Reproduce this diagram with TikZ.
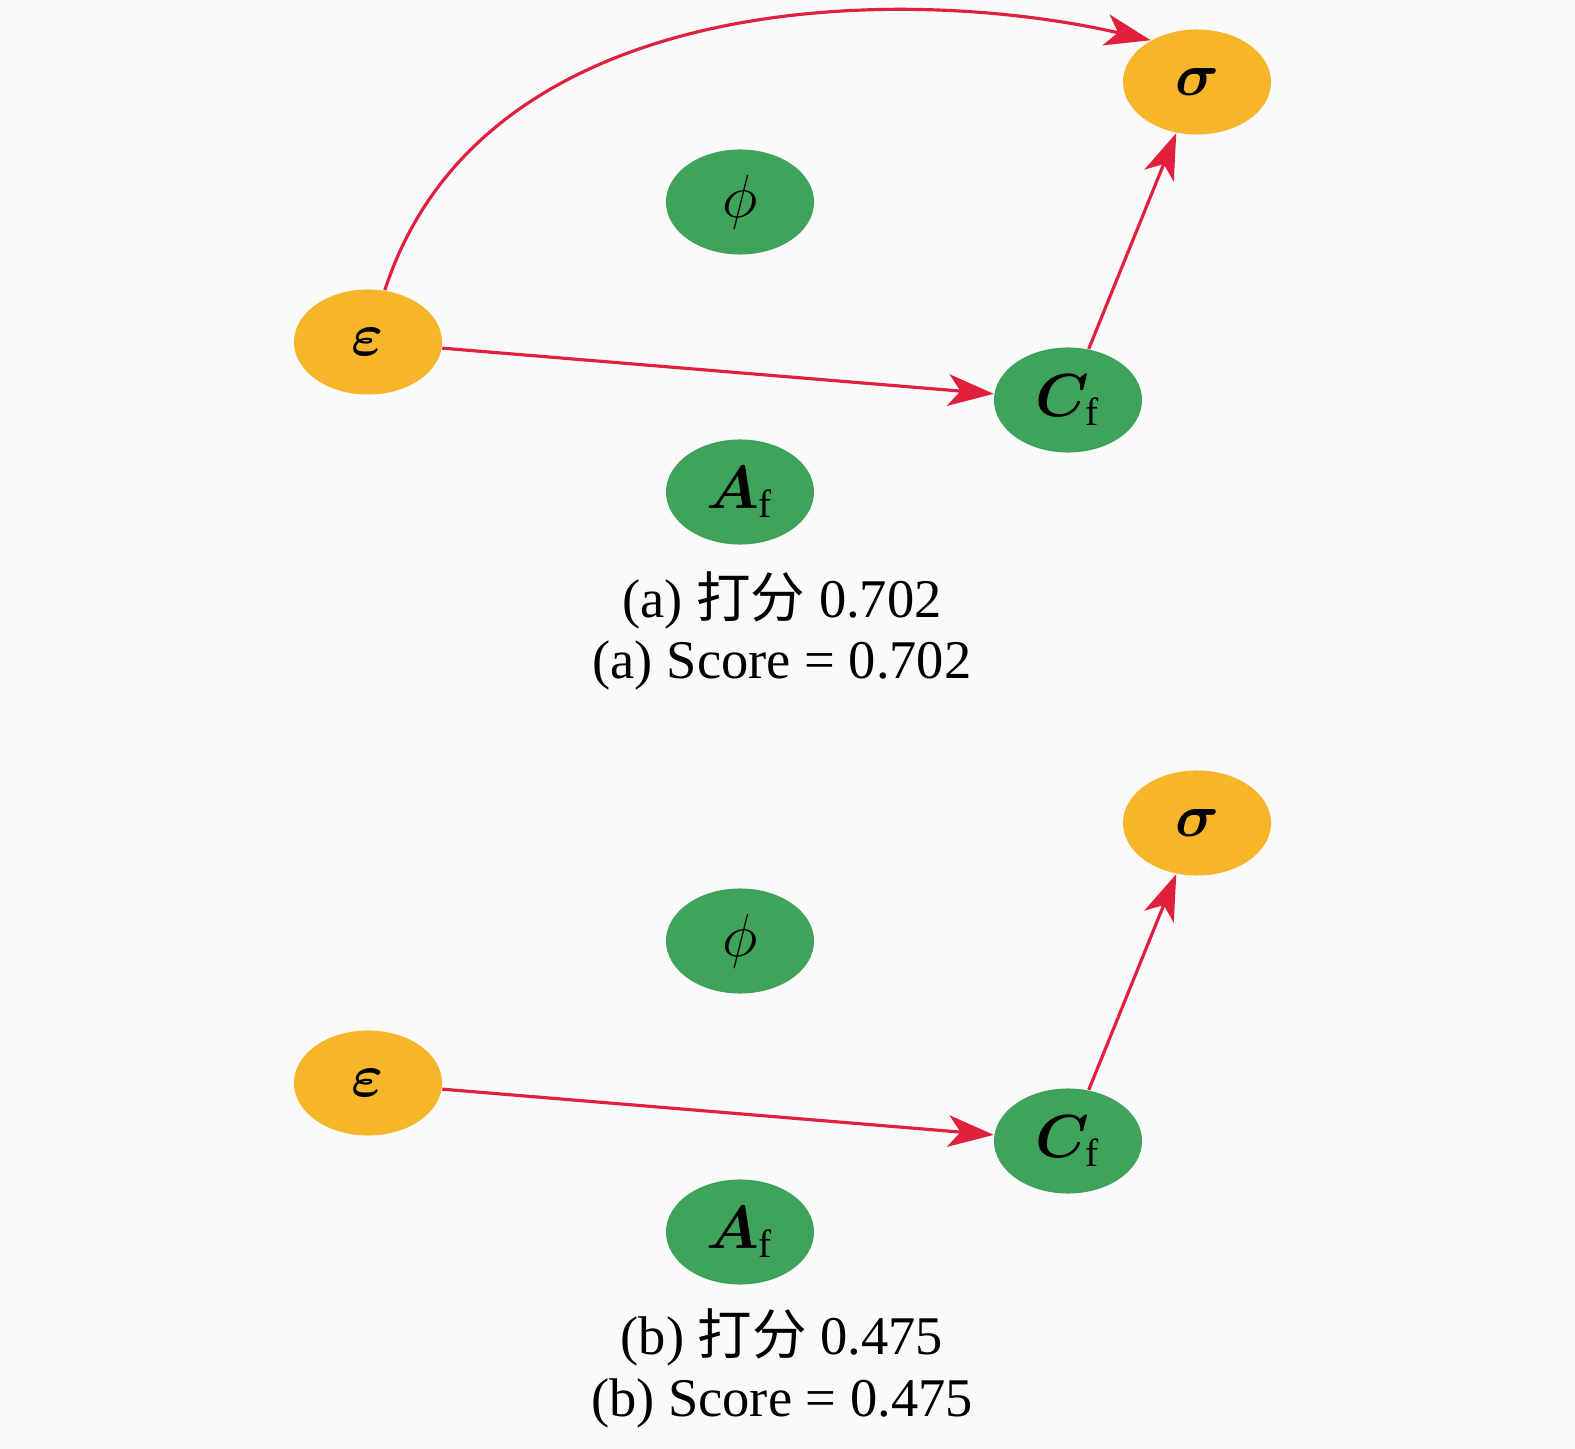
\documentclass[tikz,border=0pt]{standalone}
\usepackage{bm}
\usepackage{fontspec}
\setmainfont{Liberation Serif}
\newfontfamily\cjk{Noto Sans CJK SC}
\usetikzlibrary{shapes.geometric,arrows.meta}
\definecolor{varorange}{HTML}{F7B52A}
\definecolor{vargreen}{HTML}{3FA35B}
\definecolor{linkred}{HTML}{E0203C}
\definecolor{paper}{HTML}{FAFAFA}

\begin{document}
\begin{tikzpicture}[x=0.01cm, y=0.01cm,
    var/.style={ellipse, minimum width=1.48cm, minimum height=1.05cm, inner sep=0pt, font=\fontsize{16}{18}\selectfont},
    outvar/.style={var, fill=varorange},
    invar/.style={var, fill=vargreen},
    link/.style={draw=linkred, line width=0.9pt, -{Stealth[length=13pt, width=9pt, inset=3.5pt]}},
    caption/.style={font=\fontsize{15.5}{18}\selectfont}]
    \useasboundingbox (0,0) rectangle (1575,-1449);
    \fill[paper] (0,0) rectangle (1575,-1449);
    % (a)
    \node[outvar] (sigA) at (1197,-82) {$\bm{\sigma}$};
    \node[invar] (phiA) at (740,-202) {$\phi$};
    \node[outvar] (epsA) at (368,-342) {$\bm{\varepsilon}$};
    \node[invar] (cfA) at (1068,-400) {$\bm{C}_{\mathrm{f}}$};
    \node[invar] (afA) at (740,-492) {$\bm{A}_{\mathrm{f}}$};
    \draw[link] (epsA.72) .. controls +(72:320) and +(167:250) .. (sigA.138);
    \draw[link] (epsA) -- (cfA);
    \draw[link] (cfA) -- (sigA);
    \node[caption] (capA1) at (782,-600) {(a) {\cjk 打分} 0.702};
    \node[caption] (capA2) at (782,-665) {(a) Score = 0.702};
    % (b)
    \node[outvar] (sigB) at (1197,-823) {$\bm{\sigma}$};
    \node[invar] (phiB) at (740,-941) {$\phi$};
    \node[outvar] (epsB) at (368,-1083) {$\bm{\varepsilon}$};
    \node[invar] (cfB) at (1068,-1141) {$\bm{C}_{\mathrm{f}}$};
    \node[invar] (afB) at (740,-1232) {$\bm{A}_{\mathrm{f}}$};
    \draw[link] (epsB) -- (cfB);
    \draw[link] (cfB) -- (sigB);
    \node[caption] (capB1) at (782,-1337) {(b) {\cjk 打分} 0.475};
    \node[caption] (capB2) at (782,-1403) {(b) Score = 0.475};
\end{tikzpicture}
\end{document}
